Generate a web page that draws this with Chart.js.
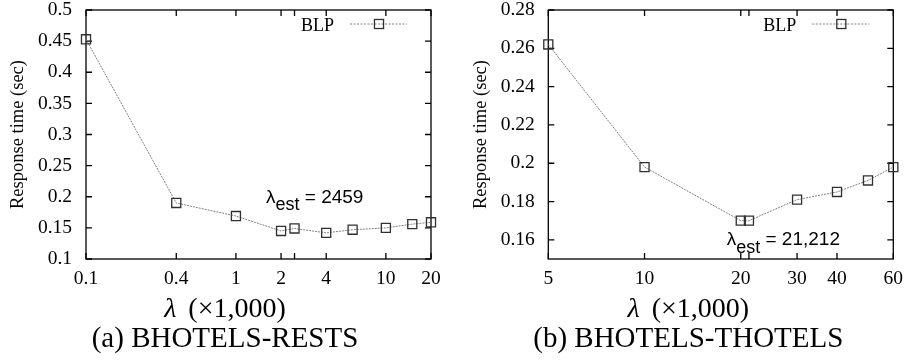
<!DOCTYPE html>
<html>
<head>
<meta charset="utf-8">
<script src="https://cdn.jsdelivr.net/npm/chart.js@4.4.1/dist/chart.umd.min.js"></script>
<style>
  html, body { margin: 0; padding: 0; background: #fff; }
  #wrap { position: relative; width: 906px; height: 360px; overflow: hidden; }
  #wrap canvas { position: absolute; top: 0; }
</style>
</head>
<body>
<div id="wrap">
  <canvas id="rests" width="453" height="360" style="left:0"></canvas>
  <canvas id="thotels" width="453" height="360" style="left:453px"></canvas>
</div>
<script>
const SERIF = '"Liberation Serif", "Times New Roman", serif';
const SANS = '"Liberation Sans", Arial, sans-serif';

// (a) BHOTELS-RESTS : response time of BLP against lambda (x1,000)
const lambdaEstRests = 2459;
const lambdaRests = [0.1, 0.4, 1, 2, lambdaEstRests / 1000, 4, 6, 10, 15, 20];
const timeRests = [0.453, 0.190, 0.169, 0.145, 0.149, 0.142, 0.147, 0.150, 0.156, 0.159];
const xTicksRests = [0.1, 0.4, 1, 2, lambdaEstRests / 1000, 4, 10, 20];
const xLabelsRests = ['0.1', '0.4', '1', '2', '', '4', '10', '20'];
const yTicksRests = [0.1, 0.15, 0.2, 0.25, 0.3, 0.35, 0.4, 0.45, 0.5];
const yLabelsRests = ['0.1', '0.15', '0.2', '0.25', '0.3', '0.35', '0.4', '0.45', '0.5'];

// (b) BHOTELS-THOTELS
const lambdaEstThotels = 21212;
const lambdaThotels = [5, 10, 20, lambdaEstThotels / 1000, 30, 40, 50, 60];
const timeThotels = [0.262, 0.198, 0.170, 0.170, 0.181, 0.185, 0.191, 0.198];
const xTicksThotels = [5, 10, 20, lambdaEstThotels / 1000, 30, 40, 60];
const xLabelsThotels = ['5', '10', '20', '', '30', '40', '60'];
const yTicksThotels = [0.16, 0.18, 0.2, 0.22, 0.24, 0.26, 0.28];
const yLabelsThotels = ['0.16', '0.18', '0.2', '0.22', '0.24', '0.26', '0.28'];

const seriesName = 'BLP';
const yTitle = 'Response time (sec)';

const TICK_LEN = 6;
const LINE_COLOR = '#808080';
const MARK_COLOR = '#303030';

// plot frame with inward, mirrored tick marks
const framePlugin = {
  id: 'frame',
  beforeDatasetsDraw(chart) {
    const { ctx, chartArea: a, scales } = chart;
    ctx.save();
    ctx.strokeStyle = '#000';
    ctx.lineWidth = 1.3;
    ctx.beginPath();
    scales.x.ticks.forEach(t => {
      const px = scales.x.getPixelForValue(t.value);
      ctx.moveTo(px, a.bottom); ctx.lineTo(px, a.bottom - TICK_LEN);
      ctx.moveTo(px, a.top); ctx.lineTo(px, a.top + TICK_LEN);
    });
    scales.y.ticks.forEach(t => {
      const py = scales.y.getPixelForValue(t.value);
      ctx.moveTo(a.left, py); ctx.lineTo(a.left + TICK_LEN, py);
      ctx.moveTo(a.right, py); ctx.lineTo(a.right - TICK_LEN, py);
    });
    ctx.stroke();
    ctx.strokeRect(a.left, a.top, a.right - a.left, a.bottom - a.top);
    ctx.restore();
  }
};

// key in the top-right corner: name, then a line sample with its marker
const keyPlugin = {
  id: 'key',
  afterDatasetsDraw(chart) {
    const { ctx, chartArea: a } = chart;
    const ds = chart.data.datasets[0];
    const y = a.top + 14;
    ctx.save();
    ctx.fillStyle = '#000';
    ctx.font = '18px ' + SERIF;
    ctx.textAlign = 'right';
    ctx.textBaseline = 'alphabetic';
    ctx.fillText(ds.label, a.right - 97, a.top + 20.5);
    ctx.strokeStyle = LINE_COLOR;
    ctx.lineWidth = 1;
    ctx.setLineDash([2, 1.5]);
    ctx.beginPath();
    ctx.moveTo(a.right - 81, y); ctx.lineTo(a.right - 24, y);
    ctx.stroke();
    ctx.setLineDash([]);
    const half = ds.pointRadius * Math.SQRT1_2;
    ctx.strokeStyle = MARK_COLOR;
    ctx.lineWidth = ds.pointBorderWidth;
    ctx.strokeRect(a.right - 52 - half, y - half, 2 * half, 2 * half);
    ctx.restore();
  }
};

// "λest = value" note inside the plot
const notePlugin = {
  id: 'note',
  afterDatasetsDraw(chart, args, opts) {
    const { ctx, chartArea: a } = chart;
    let x = a.left + opts.dx;
    const y = a.top + opts.dy;
    ctx.save();
    ctx.fillStyle = '#000';
    ctx.textAlign = 'left';
    ctx.textBaseline = 'alphabetic';
    ctx.font = '19px ' + SANS;
    ctx.fillText('λ', x, y);
    x += ctx.measureText('λ').width;
    ctx.font = '18px ' + SANS;
    ctx.fillText('est', x, y + 7.5);
    x += ctx.measureText('est').width;
    ctx.font = '19px ' + SANS;
    ctx.fillText(' = ' + opts.value, x, y);
    ctx.restore();
  }
};

// axis label under the tick labels and the panel caption
const captionPlugin = {
  id: 'caption',
  afterDraw(chart, args, opts) {
    const { ctx } = chart;
    ctx.save();
    ctx.fillStyle = '#000';
    ctx.textBaseline = 'middle';
    ctx.textAlign = 'left';
    // λ (×1,000) with an italic lambda and a math-style gap
    const fIt = 'italic 28px ' + SERIF;
    const fUp = '28px ' + SERIF;
    const gap = 12;
    ctx.font = fIt;
    const w1 = ctx.measureText('λ').width;
    ctx.font = fUp;
    const rest = '(×1,000)';
    const w2 = ctx.measureText(rest).width;
    const x = opts.cx - (w1 + gap + w2) / 2;
    ctx.font = fIt;
    ctx.fillText('λ', x, opts.xTitleY);
    ctx.font = fUp;
    ctx.fillText(rest, x + w1 + gap, opts.xTitleY);
    ctx.font = '29px ' + SERIF;
    ctx.textAlign = 'center';
    ctx.fillText(opts.text, opts.cx, opts.captionY);
    ctx.restore();
  }
};

function makePanel(id, p) {
  return new Chart(document.getElementById(id), {
    type: 'line',
    data: {
      datasets: [{
        label: seriesName,
        data: p.xs.map((x, i) => ({ x, y: p.ys[i] })),
        borderColor: LINE_COLOR,
        borderWidth: 1,
        borderDash: [2, 1],
        tension: 0,
        fill: false,
        clip: false,
        pointStyle: 'rect',
        pointRadius: 6.4,
        pointBorderColor: MARK_COLOR,
        pointBorderWidth: 1.3,
        pointBackgroundColor: 'rgba(0,0,0,0)'
      }]
    },
    options: {
      responsive: false,
      animation: false,
      events: [],
      devicePixelRatio: 1,
      layout: { padding: { left: 0, top: 10, right: p.padRight, bottom: 71 } },
      scales: {
        x: {
          type: 'logarithmic',
          min: p.xTicks[0],
          max: p.xTicks[p.xTicks.length - 1],
          afterBuildTicks: s => { s.ticks = p.xTicks.map(v => ({ value: v })); },
          afterFit: s => { s.height = 30; s.paddingLeft = 0; s.paddingRight = 0; },
          grid: { display: false, drawTicks: false },
          border: { display: false },
          ticks: {
            autoSkip: false, maxRotation: 0, minRotation: 0, padding: 8.5,
            color: '#000', font: { family: SERIF, size: 19.5, lineHeight: 1.2 },
            callback: (v, i) => p.xLabels[i]
          }
        },
        y: {
          type: 'linear',
          min: p.yMin,
          max: p.yMax,
          afterBuildTicks: s => { s.ticks = p.yTicks.map(v => ({ value: v })); },
          afterFit: s => { s.width = p.yWidth; s.paddingTop = 0; s.paddingBottom = 0; },
          grid: { display: false, drawTicks: false },
          border: { display: false },
          ticks: {
            autoSkip: false, padding: p.yPad,
            color: '#000', font: { family: SERIF, size: 19.5, lineHeight: 1.2 },
            callback: (v, i) => p.yLabels[i]
          },
          title: {
            display: true, text: yTitle, color: '#000',
            font: { family: SERIF, size: 18.5, lineHeight: 1.2 },
            padding: { top: p.yTitlePad, bottom: 0 }
          }
        }
      },
      plugins: {
        legend: { display: false },
        tooltip: { enabled: false },
        note: { dx: p.noteDx, dy: p.noteDy, value: p.noteValue },
        caption: { text: p.caption, cx: p.cx, xTitleY: 310, captionY: 339 }
      }
    },
    plugins: [framePlugin, keyPlugin, notePlugin, captionPlugin]
  });
}

makePanel('rests', {
  xs: lambdaRests, ys: timeRests,
  xTicks: xTicksRests, xLabels: xLabelsRests,
  yTicks: yTicksRests, yLabels: yLabelsRests,
  yMin: 0.1, yMax: 0.5,
  yWidth: 86, yPad: 14, yTitlePad: 7, padRight: 22,
  noteDx: 180, noteDy: 192.5, noteValue: String(lambdaEstRests),
  caption: '(a) BHOTELS-RESTS', cx: 225
});

makePanel('thotels', {
  xs: lambdaThotels, ys: timeThotels,
  xTicks: xTicksThotels, xLabels: xLabelsThotels,
  yTicks: yTicksThotels, yLabels: yLabelsThotels,
  yMin: 0.15, yMax: 0.28,
  yWidth: 95.3, yPad: 13.5, yTitlePad: 17.5, padRight: 12.7,
  noteDx: 178.4, noteDy: 235, noteValue: lambdaEstThotels.toLocaleString('en-US'),
  caption: '(b) BHOTELS-THOTELS', cx: 235.3
});
</script>
</body>
</html>
